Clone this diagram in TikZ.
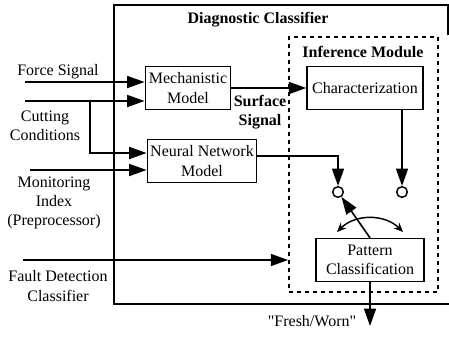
\documentclass[tikz,border=0pt]{standalone}
\usepackage{fontspec}
\setmainfont{Liberation Serif}
\newfontfamily\plainserif{Liberation Serif}
\usetikzlibrary{arrows.meta, positioning}

\begin{document}
\begin{tikzpicture}[
    x=0.75pt, y=-0.75pt,
    every node/.style={font=\fontsize{12}{14.5}\selectfont},
    box/.style={rectangle, draw, line width=1.2pt, align=center, inner sep=2pt, minimum height=32pt},
    heading/.style={font=\fontsize{12}{14.5}\selectfont\bfseries, align=center},
    caption/.style={align=center, inner sep=0pt},
    dot/.style={circle, draw, line width=1.1pt, minimum size=8pt, inner sep=0pt},
    arrow/.style={-{Triangle[length=13pt, width=9pt]}, line width=1.2pt},
    swing/.style={{Stealth[length=7pt, width=6pt]}-{Stealth[length=7pt, width=6pt]}, line width=1.1pt}
  ]

  \useasboundingbox (0,0) rectangle (449,340);

  \draw[line width=1.2pt] (448,35) -- (448,5) -- (114,5) -- (114,304) -- (449,304);
  \node[heading] (title) at (258,20) {Diagnostic Classifier};

  \node[box, minimum width=64pt] (mech) at (188,88) {Mechanistic\\Model};
  \node[box, minimum width=82pt] (nn) at (202,161) {Neural Network\\Model};

  \node[draw, dashed, line width=1.1pt, minimum width=112pt, minimum height=191pt] (infer) at (363.5,164.5) {};
  \node[heading] (inferlabel) at (363,52) {Inference Module};
  \node[box, minimum width=87pt] (char) at (365,88) {Characterization};
  \node[box, minimum width=81pt] (pat) at (370,260) {Pattern\\Classification};

  \node[dot] (lc) at (338,192) {};
  \node[dot] (rc) at (402,192) {};

  \node[caption] (fslabel) at (58,72) {Force Signal};
  \node[caption] (cclabel) at (45,126) {Cutting\\Conditions};
  \node[caption] (milabel) at (54,203) {Monitoring\\Index\\(Preprocessor)};
  \node[caption] (fdlabel) at (58,286) {Fault Detection\\Classifier};
  \node[heading, inner sep=0pt] (sslabel) at (260,112) {Surface\\Signal};
  \node[caption] (outlabel) at (312,321) {\plainserif "Fresh/Worn"};

  \coordinate (fs) at (25,82);
  \coordinate (cc) at (25,101);
  \coordinate (ccb) at (90,101);
  \coordinate (mi) at (30,170);
  \coordinate (fd) at (23,260);
  \coordinate (out) at (370,326);
  \coordinate (swl) at (337,232);
  \coordinate (swr) at (403,232);

  \draw[arrow] (fs) -- (fs -| mech.west);
  \draw[arrow] (cc) -- (cc -| mech.west);
  \draw[arrow] (ccb) |- (nn.west |- 0,153);
  \draw[arrow] (mi) -- (mi -| nn.west);
  \draw[arrow] (fd) -- (fd -| infer.west);
  \draw[arrow] (mech) -- (char);
  \draw[arrow] (nn.east |- 0,156) -| (lc.north);
  \draw[arrow] (char.south -| rc) -- (rc.north);
  \draw[arrow] (pat.north) -- (lc);
  \draw[swing] (swl) to[bend left=45] (swr);
  \draw[arrow] (pat.south) -- (out);

\end{tikzpicture}
\end{document}
